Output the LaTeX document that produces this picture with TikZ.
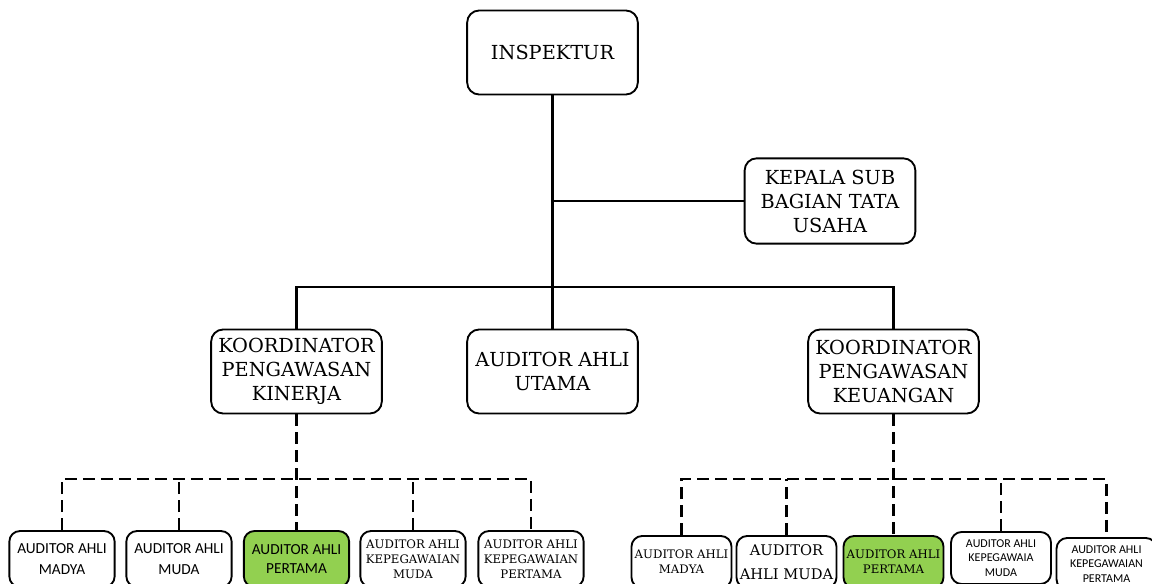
\documentclass[tikz,border=0pt]{standalone}
\usepackage{fontspec}
\setmainfont{DejaVu Serif}
\newfontfamily\calib{Carlito}
\usepackage{xcolor}
\usepackage{tikz}
\definecolor{ahligreen}{HTML}{92D050}

\begin{document}
\begin{tikzpicture}[
  x=0.75pt, y=-0.75pt,
  topbox/.style  = {draw, rounded corners=9pt, line width=1.4pt,
                    minimum width=128pt, minimum height=63pt,
                    align=center, inner sep=2pt,
                    font=\fontsize{14.5}{18}\selectfont},
  lbox/.style    = {draw, rounded corners=8pt, line width=1.4pt,
                    minimum width=79pt, minimum height=42pt,
                    align=center, inner sep=1pt},
  rbox/.style    = {draw, rounded corners=8pt, line width=1.4pt,
                    minimum width=75pt, minimum height=39pt,
                    align=center, inner sep=1pt},
  sansmid/.style = {font=\calib\fontsize{11.5}{16}\selectfont},
  sanssml/.style = {font=\calib\fontsize{9}{10.8}\selectfont},
  serifsml/.style= {font=\fontsize{8.8}{11.2}\selectfont},
  serifmid/.style= {font=\fontsize{11}{18}\selectfont},
  hilite/.style  = {fill=ahligreen},
  sline/.style   = {line width=1.6pt},
  dline/.style   = {line width=1.6pt, dash pattern=on 9pt off 4.5pt},
]
\useasboundingbox (0,0) rectangle (1152,584);

%% ── upper levels ────────────────────────────────────────────────────────────
\node[topbox] (insp)  at (552.5, 52.5) {INSPEKTUR};
\node[topbox, minimum height=64pt] (kasub) at (830, 201)
  {KEPALA SUB\\BAGIAN TATA\\USAHA};
\node[topbox] (korkin) at (296.5, 371.5) {KOORDINATOR\\PENGAWASAN\\KINERJA};
\node[topbox] (utama)  at (552.5, 371.5) {AUDITOR AHLI\\UTAMA};
\node[topbox] (korkeu) at (893.5, 371.5) {KOORDINATOR\\PENGAWASAN\\KEUANGAN};

\coordinate (bus)  at (553, 287);
\coordinate (kbus) at (296.5, 479);
\coordinate (ebus) at (893.5, 479);

\draw[sline] (insp.south) -- (utama.north);
\draw[sline] (kasub.west) -- (kasub.west -| insp.south);
\draw[sline] (korkin.north) |- (bus) -| (korkeu.north);

%% ── kinerja group ───────────────────────────────────────────────────────────
\node[lbox, sansmid]  (kmadya) at (62, 559)    {AUDITOR AHLI\\MADYA};
\node[lbox, sansmid]  (kmuda)  at (179, 559)   {AUDITOR AHLI\\MUDA};
\node[lbox, sansmid, hilite, font=\calib\fontsize{11.5}{14}\selectfont]
                      (kprt)   at (296.5, 559) {AUDITOR AHLI\\PERTAMA};
\node[lbox, serifsml] (kkmuda) at (413, 559)   {AUDITOR AHLI\\KEPEGAWAIAN\\MUDA};
\node[lbox, serifsml] (kkprt)  at (531, 559)   {AUDITOR AHLI\\KEPEGAWAIAN\\PERTAMA};

\draw[dline] (korkin.south) -- (kprt.north);
\draw[dline] (kmadya.north) |- (kbus) -| (kkprt.north);
\draw[dline] (kmuda.north) -- (kmuda.north |- kbus);
\draw[dline] (kkmuda.north) -- (kkmuda.north |- kbus);

%% ── keuangan group ──────────────────────────────────────────────────────────
\node[rbox, serifsml] (emadya) at (681.5, 562)  {AUDITOR AHLI\\MADYA};
\node[rbox, serifmid] (emuda)  at (786.5, 562)  {AUDITOR\\AHLI MUDA};
\node[rbox, serifsml, hilite]
                      (eprt)   at (893.5, 562)  {AUDITOR AHLI\\PERTAMA};
\node[rbox, sanssml]  (ekmuda) at (1001, 558)   {AUDITOR AHLI\\KEPEGAWAIA\\MUDA};
\node[rbox, sanssml]  (ekprt)  at (1106.5, 564) {AUDITOR AHLI\\KEPEGAWAIAN\\PERTAMA};

\draw[dline] (korkeu.south) -- (eprt.north);
\draw[dline] (emadya.north) |- (ebus) -| (ekprt.north);
\draw[dline] (emuda.north) -- (emuda.north |- ebus);
\draw[dline] (ekmuda.north) -- (ekmuda.north |- ebus);

\end{tikzpicture}
\end{document}
